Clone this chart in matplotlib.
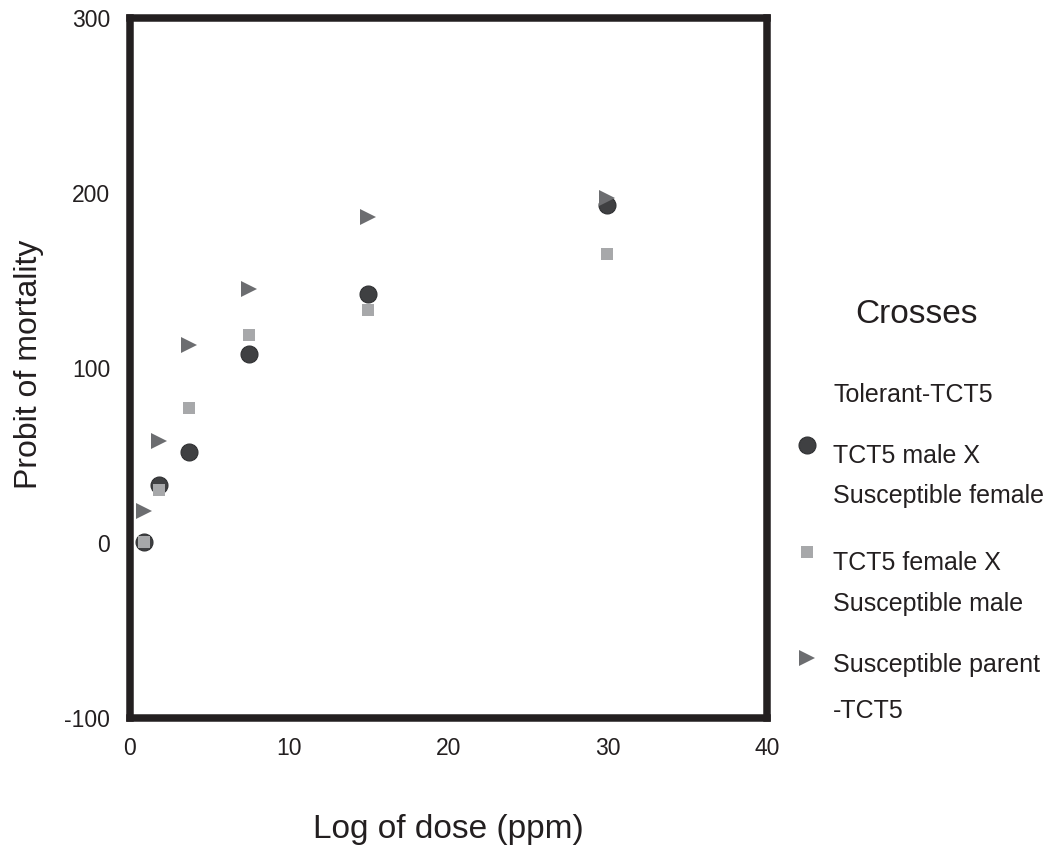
import matplotlib

matplotlib.use("Agg")
import matplotlib.pyplot as plt
from matplotlib.lines import Line2D

plt.rcParams["font.family"] = ["Liberation Sans", "DejaVu Sans"]
plt.rcParams["axes.unicode_minus"] = False

# dose values (halving series) and probit of mortality per cross
DOSE = [0.9375, 1.875, 3.75, 7.5, 15, 30]
MALE_X_SUSC_FEMALE = [0.5, 33, 52, 108, 142, 193]
FEMALE_X_SUSC_MALE = [0.5, 30, 77, 119, 133, 165]
SUSC_PARENT = [18, 58, 113, 145, 186, 197]

SERIES_LABELS = [
    ["TCT5 male X", "Susceptible female"],
    ["TCT5 female X", "Susceptible male"],
    ["Susceptible parent", "-TCT5"],
]
X_TICKS = [0, 10, 20, 30, 40]
Y_TICKS = [-100, 0, 100, 200, 300]

W, H = 1050, 846


def fx(px):
    return px / W


def fy(py):
    return 1 - py / H


fig = plt.figure(figsize=(W / 100, H / 100), dpi=100)
ax = fig.add_axes([fx(129.5), fy(717.5), fx(766.7) - fx(129.5), fy(18) - fy(717.5)])

styles = [
    dict(marker="o", ms=12.2, color="#3f4042", mec="#2f3032", mew=0.8),
    dict(marker="s", ms=8.6, color="#a7a8aa", mec="#a7a8aa", mew=0),
    dict(marker=">", ms=12.0, color="#6c6d70", mec="#6c6d70", mew=0),
]
for ys, st in zip([MALE_X_SUSC_FEMALE, FEMALE_X_SUSC_MALE, SUSC_PARENT], styles):
    ax.plot(DOSE, ys, ls="none", clip_on=False, **st)

ax.set_xlim(0, 40)
ax.set_ylim(-100, 300)
ax.set_xticks(X_TICKS)
ax.set_yticks(Y_TICKS)
ax.tick_params(length=0, labelsize=16.5, colors="#231f20")
ax.tick_params(axis="x", pad=14)
ax.tick_params(axis="y", pad=14)
for sp in ax.spines.values():
    sp.set_linewidth(5.4)
    sp.set_color("#231f20")

ax.set_xlabel("Log of dose (ppm)", fontsize=24, color="#231f20", va="baseline")
ax.xaxis.set_label_coords(0.5006, (717.5 - 838) / 699.5)
ax.set_ylabel("Probit of mortality", fontsize=23, color="#231f20", va="baseline")
ax.yaxis.set_label_coords((37 - 129.5) / 637.2, (717.5 - 364.5) / 699.5)

# legend, laid out by hand
fig.text(fx(855), fy(322.7), "Crosses", fontsize=24, color="#231f20", va="baseline")
fig.text(fx(833), fy(402), "Tolerant-TCT5", fontsize=18, color="#231f20", va="baseline")
marker_y = [445, 552, 658]
text_y = [(463, 503), (570, 611), (672, 718)]
for st, my, (y1, y2), lines in zip(styles, marker_y, text_y, SERIES_LABELS):
    fig.add_artist(Line2D([fx(807)], [fy(my)], transform=fig.transFigure, ls="none", **st))
    fig.text(fx(833), fy(y1), lines[0], fontsize=18, color="#231f20", va="baseline")
    fig.text(fx(833), fy(y2), lines[1], fontsize=18, color="#231f20", va="baseline")

fig.savefig("out.png", dpi=100)
